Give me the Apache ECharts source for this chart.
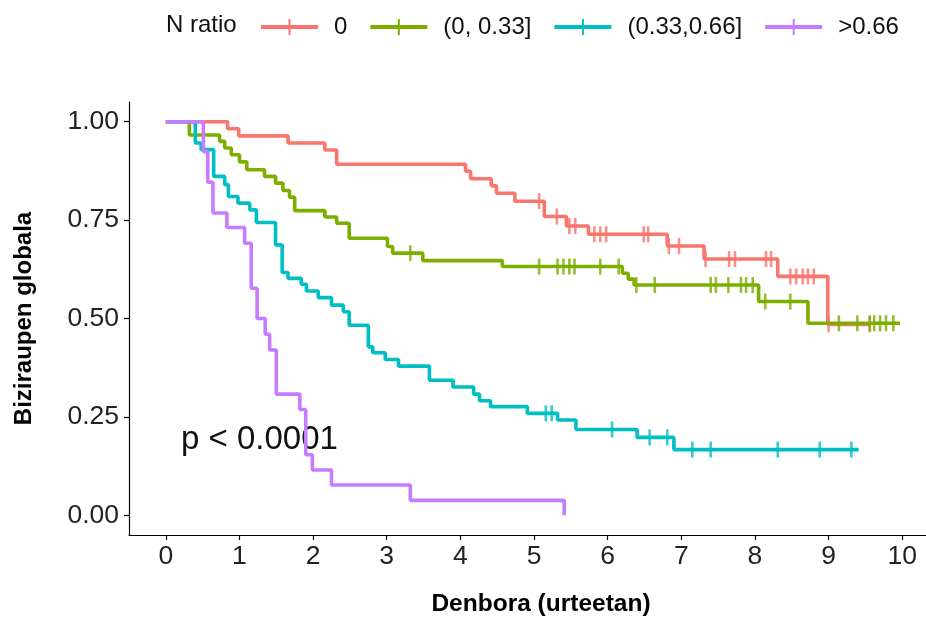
<!DOCTYPE html>
<html>
<head>
<meta charset="utf-8">
<script src="https://cdn.jsdelivr.net/npm/echarts@6/dist/echarts.min.js"></script>
<style>
html,body{margin:0;padding:0;background:#fff;}
#chart{width:926px;height:619px;}
</style>
</head>
<body>
<div id="chart"></div>
<script>
// ---- data ----
const groupNames = ['0', '(0, 0.33]', '(0.33,0.66]', '>0.66'];
const groupColors = ['#F8766D', '#7CAE00', '#00BFC4', '#C77CFF'];

const times0 = [0, 0.84, 0.99, 1.66, 2.16, 2.32, 4.07, 4.14, 4.42, 4.49, 4.74, 5.14, 5.44, 5.74, 6.81, 7.31, 8.31, 8.99, 9.56];
const surv0  = [1, 0.982, 0.964, 0.946, 0.928, 0.892, 0.874, 0.855, 0.837, 0.818, 0.798, 0.759, 0.735, 0.714, 0.684, 0.651, 0.607, 0.485, 0.485];
const censor0 = [5.07, 5.31, 5.48, 5.56, 5.82, 5.90, 5.98, 6.49, 6.55, 6.83, 6.97, 7.33, 7.65, 7.73, 8.15, 8.22, 8.48, 8.56, 8.65, 8.72, 8.80, 9.00, 9.56];

const times1 = [0, 0.32, 0.73, 0.80, 0.89, 1.00, 1.10, 1.34, 1.49, 1.59, 1.68, 1.75, 2.16, 2.32, 2.49, 3.01, 3.08, 3.49, 4.57, 6.20, 6.28, 6.36, 8.05, 8.72, 9.97];
const surv1  = [1, 0.966, 0.95, 0.933, 0.916, 0.898, 0.878, 0.861, 0.844, 0.825, 0.808, 0.774, 0.758, 0.742, 0.704, 0.683, 0.666, 0.647, 0.632, 0.615, 0.600, 0.585, 0.543, 0.488, 0.488];
const censor1 = [3.32, 5.07, 5.32, 5.40, 5.48, 5.55, 5.90, 6.15, 6.39, 6.64, 7.40, 7.47, 7.64, 7.81, 7.88, 7.97, 8.14, 8.48, 9.14, 9.39, 9.56, 9.62, 9.70, 9.78, 9.88];

const times2 = [0, 0.40, 0.48, 0.65, 0.80, 0.85, 0.98, 1.14, 1.23, 1.49, 1.58, 1.66, 1.84, 1.91, 2.07, 2.25, 2.41, 2.49, 2.75, 2.81, 2.98, 3.16, 3.58, 3.90, 4.18, 4.26, 4.41, 4.91, 5.32, 5.57, 6.40, 6.90, 9.41];
const surv2  = [1, 0.946, 0.929, 0.861, 0.840, 0.810, 0.793, 0.776, 0.744, 0.687, 0.617, 0.602, 0.587, 0.570, 0.553, 0.534, 0.517, 0.483, 0.428, 0.413, 0.396, 0.379, 0.343, 0.326, 0.308, 0.291, 0.276, 0.259, 0.242, 0.218, 0.198, 0.167, 0.167];
const censor2 = [5.16, 5.24, 6.06, 6.57, 6.81, 7.15, 7.40, 8.31, 8.88, 9.31];

const times3 = [0, 0.51, 0.57, 0.64, 0.83, 1.07, 1.16, 1.24, 1.35, 1.41, 1.50, 1.82, 1.90, 1.99, 2.25, 3.32, 5.41];
const surv3  = [1, 0.924, 0.846, 0.768, 0.731, 0.691, 0.577, 0.50, 0.46, 0.42, 0.308, 0.269, 0.154, 0.115, 0.077, 0.038, 0.0];
const censor3 = [];

const xTicks = [0, 1, 2, 3, 4, 5, 6, 7, 8, 9, 10];
const yTicks = [0, 0.25, 0.5, 0.75, 1];
const pText = 'p < 0.0001';

// ---- build ----
const allTimes = [times0, times1, times2, times3];
const allSurv = [surv0, surv1, surv2, surv3];
const allCensor = [censor0, censor1, censor2, censor3];

function survAt(times, surv, t) {
  let v = surv[0];
  for (let i = 0; i < times.length; i++) { if (times[i] <= t) v = surv[i]; }
  return v;
}

const FONT = '"Liberation Sans", Arial, sans-serif';
const series = [];
for (let g = 0; g < 4; g++) {
  series.push({
    name: groupNames[g], type: 'line', step: 'end', showSymbol: false, silent: true,
    data: allTimes[g].map((t, i) => [t, allSurv[g][i]]),
    lineStyle: { color: groupColors[g], width: 3.6 }, itemStyle: { color: groupColors[g] },
    z: 2 + g
  });
  series.push({
    name: groupNames[g] + ' censor', type: 'scatter', silent: true,
    symbol: 'rect', symbolSize: [2.6, 16],
    data: allCensor[g].map(t => [t, survAt(allTimes[g], allSurv[g], t)]),
    itemStyle: { color: groupColors[g] }, z: 2 + g
  });
}

const legendIcon = 'path://M0,6H57V10H0Z M27.5,0H29.5V16H27.5Z';

const chart = echarts.init(document.getElementById('chart'), null, { renderer: 'canvas' });
chart.setOption({
  animation: false,
  backgroundColor: '#fff',
  textStyle: { fontFamily: FONT },
  grid: { left: 129, top: 102, width: 810, height: 433, containLabel: false, outerBoundsMode: 'none' },
  legend: {
    data: groupNames.map(n => ({ name: n, icon: legendIcon })),
    left: 256, top: 10, itemWidth: 57, itemHeight: 16, itemGap: 23,
    selectedMode: false,
    textStyle: { fontSize: 24, color: '#111', fontFamily: FONT, padding: [0, 0, 0, 11] }
  },
  graphic: [
    { type: 'text', left: 166, top: 13, style: { text: 'N ratio', font: '24px ' + FONT, fill: '#111' } },
    { type: 'text', left: 181, top: 423, style: { text: pText, font: '33px ' + FONT, fill: '#111' } }
  ],
  xAxis: {
    type: 'value', min: -0.5, max: 10.5,
    name: 'Denbora (urteetan)', nameLocation: 'middle', nameGap: 57,
    nameTextStyle: { fontSize: 24.5, fontWeight: 'bold', color: '#000', fontFamily: FONT, padding: [0, 0, 0, 14] },
    axisLine: { show: true, onZero: false, lineStyle: { color: '#000', width: 1.2 } },
    axisTick: { show: true, length: 5, lineStyle: { color: '#000', width: 1.2 }, customValues: xTicks },
    axisLabel: { fontSize: 26.5, color: '#222', margin: 8, customValues: xTicks, formatter: v => String(v) },
    splitLine: { show: false }
  },
  yAxis: {
    type: 'value', min: -0.05, max: 1.05,
    name: 'Biziraupen globala', nameLocation: 'middle', nameGap: 93, nameRotate: 90,
    nameTextStyle: { fontSize: 24, fontWeight: 'bold', color: '#000', fontFamily: FONT },
    axisLine: { show: true, onZero: false, lineStyle: { color: '#000', width: 1.2 } },
    axisTick: { show: true, length: 5, lineStyle: { color: '#000', width: 1.2 }, customValues: yTicks },
    axisLabel: { fontSize: 26.5, color: '#222', margin: 10, customValues: yTicks, formatter: v => v.toFixed(2) },
    splitLine: { show: false }
  },
  series: series
});
</script>
</body>
</html>
